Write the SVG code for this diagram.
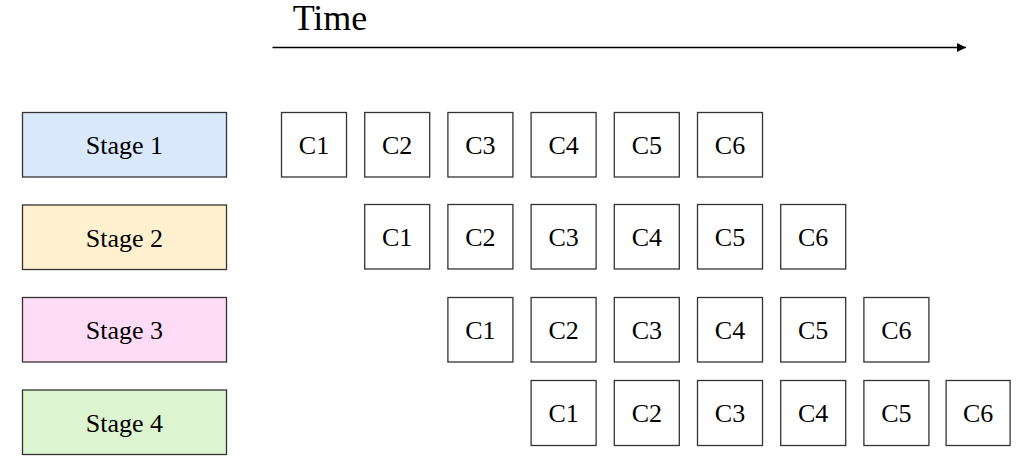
<svg xmlns="http://www.w3.org/2000/svg" width="1025" height="469" viewBox="0 0 1025 469">
<defs>
<style>
text{font-family:"Liberation Serif","Times New Roman",serif;fill:#000;text-anchor:middle}
.st{stroke:#333;stroke-width:1.3}
.c{fill:#fff;stroke:#333;stroke-width:1.3}
.lbl{font-size:26px}
</style>
<marker id="ah" markerWidth="10" markerHeight="10" refX="9" refY="4.5" orient="auto" markerUnits="userSpaceOnUse">
<path d="M0,0 L9,4.5 L0,9 Z" fill="#000"/>
</marker>
</defs>
<rect width="1025" height="469" fill="#fff"/>
<g id="connectors">
<line x1="272.5" y1="47.5" x2="966" y2="47.5" stroke="#000" stroke-width="1.5" marker-end="url(#ah)"/>
</g>
<text id="time" x="330" y="30" font-size="36px">Time</text>
<g id="stage1"><rect class="st" x="22.5" y="112.5" width="204" height="64.5" fill="#dae8fc"/><text class="lbl" x="124.5" y="154">Stage 1</text></g>
<g id="stage2"><rect class="st" x="22.5" y="205" width="204" height="64.5" fill="#fff0cf"/><text class="lbl" x="124.5" y="246.5">Stage 2</text></g>
<g id="stage3"><rect class="st" x="22.5" y="297.5" width="204" height="64.5" fill="#ffdcf5"/><text class="lbl" x="124.5" y="339">Stage 3</text></g>
<g id="stage4"><rect class="st" x="22.5" y="390" width="204" height="64.5" fill="#dcf5d0"/><text class="lbl" x="124.5" y="431.5">Stage 4</text></g>
<g id="r1c1"><rect class="c" x="281.5" y="112.5" width="65" height="64.5"/><text class="lbl" x="314" y="154">C1</text></g>
<g id="r1c2"><rect class="c" x="364.7" y="112.5" width="65" height="64.5"/><text class="lbl" x="397.2" y="154">C2</text></g>
<g id="r1c3"><rect class="c" x="447.9" y="112.5" width="65" height="64.5"/><text class="lbl" x="480.4" y="154">C3</text></g>
<g id="r1c4"><rect class="c" x="531.1" y="112.5" width="65" height="64.5"/><text class="lbl" x="563.6" y="154">C4</text></g>
<g id="r1c5"><rect class="c" x="614.3" y="112.5" width="65" height="64.5"/><text class="lbl" x="646.8" y="154">C5</text></g>
<g id="r1c6"><rect class="c" x="697.5" y="112.5" width="65" height="64.5"/><text class="lbl" x="730" y="154">C6</text></g>
<g id="r2c1"><rect class="c" x="364.7" y="204.5" width="65" height="64.5"/><text class="lbl" x="397.2" y="246">C1</text></g>
<g id="r2c2"><rect class="c" x="447.9" y="204.5" width="65" height="64.5"/><text class="lbl" x="480.4" y="246">C2</text></g>
<g id="r2c3"><rect class="c" x="531.1" y="204.5" width="65" height="64.5"/><text class="lbl" x="563.6" y="246">C3</text></g>
<g id="r2c4"><rect class="c" x="614.3" y="204.5" width="65" height="64.5"/><text class="lbl" x="646.8" y="246">C4</text></g>
<g id="r2c5"><rect class="c" x="697.5" y="204.5" width="65" height="64.5"/><text class="lbl" x="730" y="246">C5</text></g>
<g id="r2c6"><rect class="c" x="780.7" y="204.5" width="65" height="64.5"/><text class="lbl" x="813.2" y="246">C6</text></g>
<g id="r3c1"><rect class="c" x="447.9" y="297.5" width="65" height="64.5"/><text class="lbl" x="480.4" y="339">C1</text></g>
<g id="r3c2"><rect class="c" x="531.1" y="297.5" width="65" height="64.5"/><text class="lbl" x="563.6" y="339">C2</text></g>
<g id="r3c3"><rect class="c" x="614.3" y="297.5" width="65" height="64.5"/><text class="lbl" x="646.8" y="339">C3</text></g>
<g id="r3c4"><rect class="c" x="697.5" y="297.5" width="65" height="64.5"/><text class="lbl" x="730" y="339">C4</text></g>
<g id="r3c5"><rect class="c" x="780.7" y="297.5" width="65" height="64.5"/><text class="lbl" x="813.2" y="339">C5</text></g>
<g id="r3c6"><rect class="c" x="863.9" y="297.5" width="65" height="64.5"/><text class="lbl" x="896.4" y="339">C6</text></g>
<g id="r4c1"><rect class="c" x="531.1" y="380.5" width="65" height="65"/><text class="lbl" x="563.6" y="422">C1</text></g>
<g id="r4c2"><rect class="c" x="614.3" y="380.5" width="65" height="65"/><text class="lbl" x="646.8" y="422">C2</text></g>
<g id="r4c3"><rect class="c" x="697.5" y="380.5" width="65" height="65"/><text class="lbl" x="730" y="422">C3</text></g>
<g id="r4c4"><rect class="c" x="780.7" y="380.5" width="65" height="65"/><text class="lbl" x="813.2" y="422">C4</text></g>
<g id="r4c5"><rect class="c" x="863.9" y="380.5" width="65" height="65"/><text class="lbl" x="896.4" y="422">C5</text></g>
<g id="r4c6"><rect class="c" x="946.1" y="380.5" width="64" height="65"/><text class="lbl" x="978.1" y="422">C6</text></g>
</svg>
